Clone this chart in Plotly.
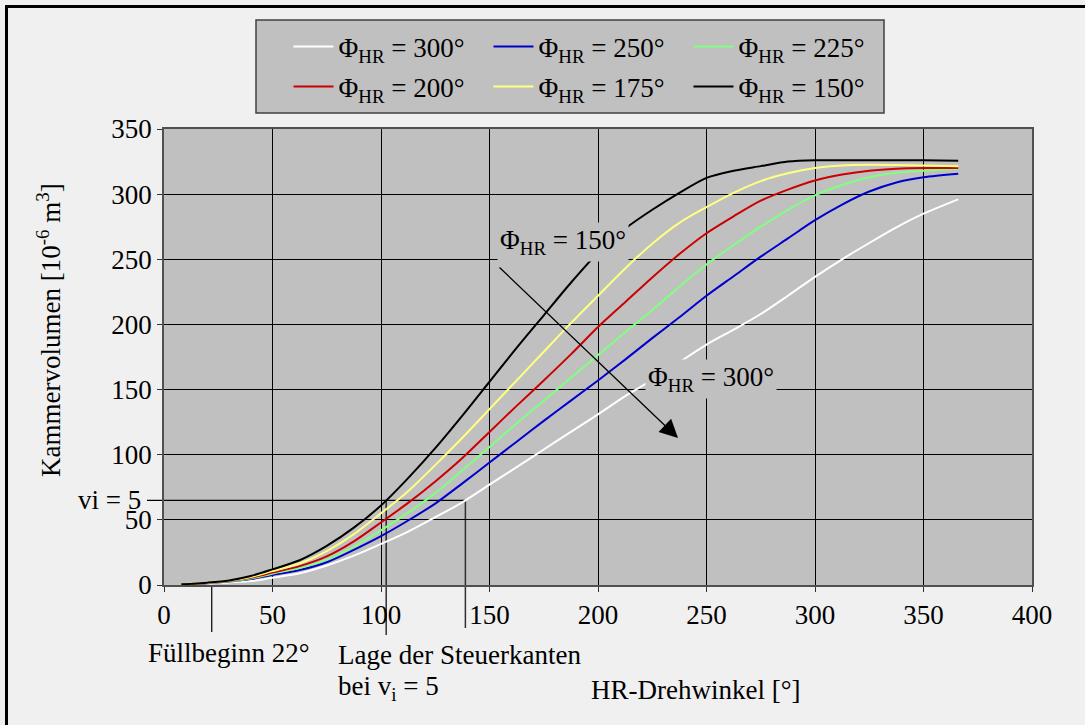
import numpy as np
import plotly.graph_objects as go

# HR rotation angle [deg] at which the chamber volume was sampled
angle = [8, 20, 30, 40, 50, 62.5, 75, 87.5, 100, 112.5, 125, 137.5, 150, 162.5,
         175, 187.5, 200, 212.5, 225, 237.5, 250, 262.5, 275, 287.5, 300, 312.5,
         325, 337.5, 350, 366]

# chamber volume [1e-6 m^3] per control angle Phi_HR
vol_300 = [0.3, 1.0, 2.0, 3.0, 5.6, 9, 15, 22.5, 31.5, 41, 52, 63.5, 77, 90.5,
           104, 117.5, 131, 145, 157.5, 171, 184.5, 196, 208, 222, 236.5, 250,
           262.5, 274.5, 285, 296]
vol_250 = [0.4, 1.4, 2.6, 4.6, 7.7, 11.5, 17.5, 27, 37.5, 49.5, 62.5, 78, 94,
           110, 126, 141.5, 157, 173, 189.5, 205.5, 222, 237, 252, 266, 280,
           292, 302, 309, 313, 315.7]
vol_225 = [0.5, 1.5, 2.8, 5.0, 8.7, 13, 19.5, 29.5, 42, 55.5, 70.5, 88, 106,
           124, 141.5, 159, 176.5, 194, 211, 229, 246, 261, 275, 288, 299, 307,
           313, 316.5, 318, 319.5]
vol_200 = [0.5, 1.6, 3.0, 5.6, 9.5, 14.5, 22, 33.5, 48, 63, 79.5, 97.5, 117.5,
           137.5, 157, 177, 198, 217, 236, 254, 270, 283, 295, 303.5, 310.5,
           315, 318, 319.5, 320, 320]
vol_175 = [0.5, 1.7, 3.2, 6.2, 10.7, 16.5, 26, 39, 55, 72, 92, 113, 135,
           157, 179, 201, 222, 243, 262, 278, 290, 301, 310, 316, 320, 322,
           322.5, 322.3, 322, 321.5]
vol_150 = [0.5, 1.8, 3.5, 6.9, 12, 19, 30, 44, 61, 82, 105, 130, 156, 182,
           207, 232, 255, 273.5, 288, 301, 312.5, 318, 321.5, 325, 326, 326,
           326, 326, 326, 325.6]

series = [
    ("300", vol_300, "#ffffff", "legend"),
    ("250", vol_250, "#0000cc", "legend"),
    ("225", vol_225, "#80ff80", "legend"),
    ("200", vol_200, "#cc0000", "legend2"),
    ("175", vol_175, "#ffff80", "legend2"),
    ("150", vol_150, "#000000", "legend2"),
]

x_ticks = [0, 50, 100, 150, 200, 250, 300, 350, 400]
y_ticks = [0, 50, 100, 150, 200, 250, 300, 350]
X_MAX, Y_MAX = 400, 350

fill_start = 22          # Füllbeginn [deg]
vi = 5                   # built-in volume ratio
vi_level = 65            # volume at v_i = 5

# control-edge positions: where the extreme curves reach the v_i level
edge_150 = float(np.interp(vi_level, vol_150, angle))
edge_300 = float(np.interp(vi_level, vol_300, angle))

FONT = "Liberation Serif, Times New Roman, serif"
W, H = 1085, 725
L, R, T, B = 164, 53, 129, 140
PW, PH = W - L - R, H - T - B


def px_x(p):
    return (p - L) / PW


def px_y(p):
    return (H - B - p) / PH


fig = go.Figure()
for name, vals, color, leg in series:
    fig.add_trace(go.Scatter(
        x=angle, y=vals, mode="lines", name=f"Φ<sub>HR</sub> = {name}°",
        line=dict(color=color, width=2, shape="spline", smoothing=0.8),
        legend=leg, hoverinfo="skip",
    ))

shapes = [
    # outer frame
    dict(type="rect", xref="paper", yref="paper", x0=px_x(6.5), x1=px_x(1110),
         y0=px_y(6.5), y1=px_y(760), line=dict(color="black", width=3),
         layer="below"),
    # legend panel
    dict(type="rect", xref="paper", yref="paper", x0=px_x(256), x1=px_x(884),
         y0=px_y(20), y1=px_y(113), fillcolor="#c0c0c0",
         line=dict(color="#404040", width=1.5), layer="below"),
    # v_i = 5 level
    dict(type="line", xref="paper", yref="paper", x0=px_x(147),
         x1=edge_300 / X_MAX, y0=vi_level / Y_MAX, y1=vi_level / Y_MAX,
         line=dict(color="black", width=1.2), layer="between"),
    # control edge for Phi_HR = 150
    dict(type="line", xref="paper", yref="paper", x0=edge_150 / X_MAX,
         x1=edge_150 / X_MAX, y0=vi_level / Y_MAX, y1=px_y(635),
         line=dict(color="black", width=1.2), layer="between"),
    # control edge for Phi_HR = 300
    dict(type="line", xref="paper", yref="paper", x0=edge_300 / X_MAX,
         x1=edge_300 / X_MAX, y0=vi_level / Y_MAX, y1=px_y(628),
         line=dict(color="#303030", width=1.5), layer="between"),
    # start of filling
    dict(type="line", xref="paper", yref="paper", x0=fill_start / X_MAX,
         x1=fill_start / X_MAX, y0=0, y1=px_y(632),
         line=dict(color="black", width=1.2), layer="between"),
]

txt = dict(family=FONT, size=27, color="black")


def label(text, x, y, xanchor="center", **kw):
    return dict(text=text, x=x, y=y, xref="paper", yref="paper",
                xanchor=xanchor, yanchor="middle", showarrow=False,
                font=txt, **kw)


annotations = [
    label("Φ<sub>HR</sub> = 150°", px_x(562.5), px_y(241.5),
          bgcolor="#c0c0c0", borderpad=2),
    label("Φ<sub>HR</sub> = 300°", px_x(710.5), px_y(379),
          bgcolor="#c0c0c0", borderpad=2),
    dict(text="", x=px_x(678), y=px_y(438), xref="paper", yref="paper",
         ax=-180, ay=-172, showarrow=True, arrowhead=2, arrowsize=2.8,
         arrowwidth=1.3, arrowcolor="black"),
    label(f"vi = {vi}", px_x(143), vi_level / Y_MAX, xanchor="right"),
    label(f"Füllbeginn {fill_start}°", px_x(228.7), px_y(653)),
    label("Lage der Steuerkanten", px_x(336), px_y(655), xanchor="left"),
    label(f"bei v<sub>i</sub> = {vi}", px_x(336), px_y(688), xanchor="left"),
    label("HR-Drehwinkel [°]", px_x(695.5), px_y(690)),
    label("Kammervolumen [10<sup>-6</sup> m<sup>3</sup>]", px_x(49),
          px_y(330), textangle=-90),
]

axis_common = dict(
    showgrid=True, gridcolor="black", gridwidth=1, zeroline=False,
    showline=True, linecolor="#505050", linewidth=1.5, mirror=True,
    ticks="outside", ticklen=5, tickcolor="#303030", tickwidth=1,
    tickfont=txt,
)

legend_common = dict(
    orientation="h", xanchor="left", yanchor="middle", x=px_x(288.5),
    bgcolor="rgba(0,0,0,0)", borderwidth=0, font=txt, itemwidth=40,
    entrywidth=145, entrywidthmode="pixels", itemclick=False,
)

fig.update_layout(
    width=W, height=H,
    margin=dict(l=L, r=R, t=T, b=B, autoexpand=False),
    paper_bgcolor="#f0f0f0", plot_bgcolor="#c0c0c0",
    font=txt, showlegend=True,
    xaxis=dict(range=[0, X_MAX], tickvals=x_ticks, ticklabelstandoff=0,
               **axis_common),
    yaxis=dict(range=[0, Y_MAX], tickvals=y_ticks, ticklabelstandoff=0,
               **axis_common),
    legend=dict(y=px_y(47), **legend_common),
    legend2=dict(y=px_y(87), **legend_common),
    shapes=shapes, annotations=annotations,
)

fig.write_html("out.html")
